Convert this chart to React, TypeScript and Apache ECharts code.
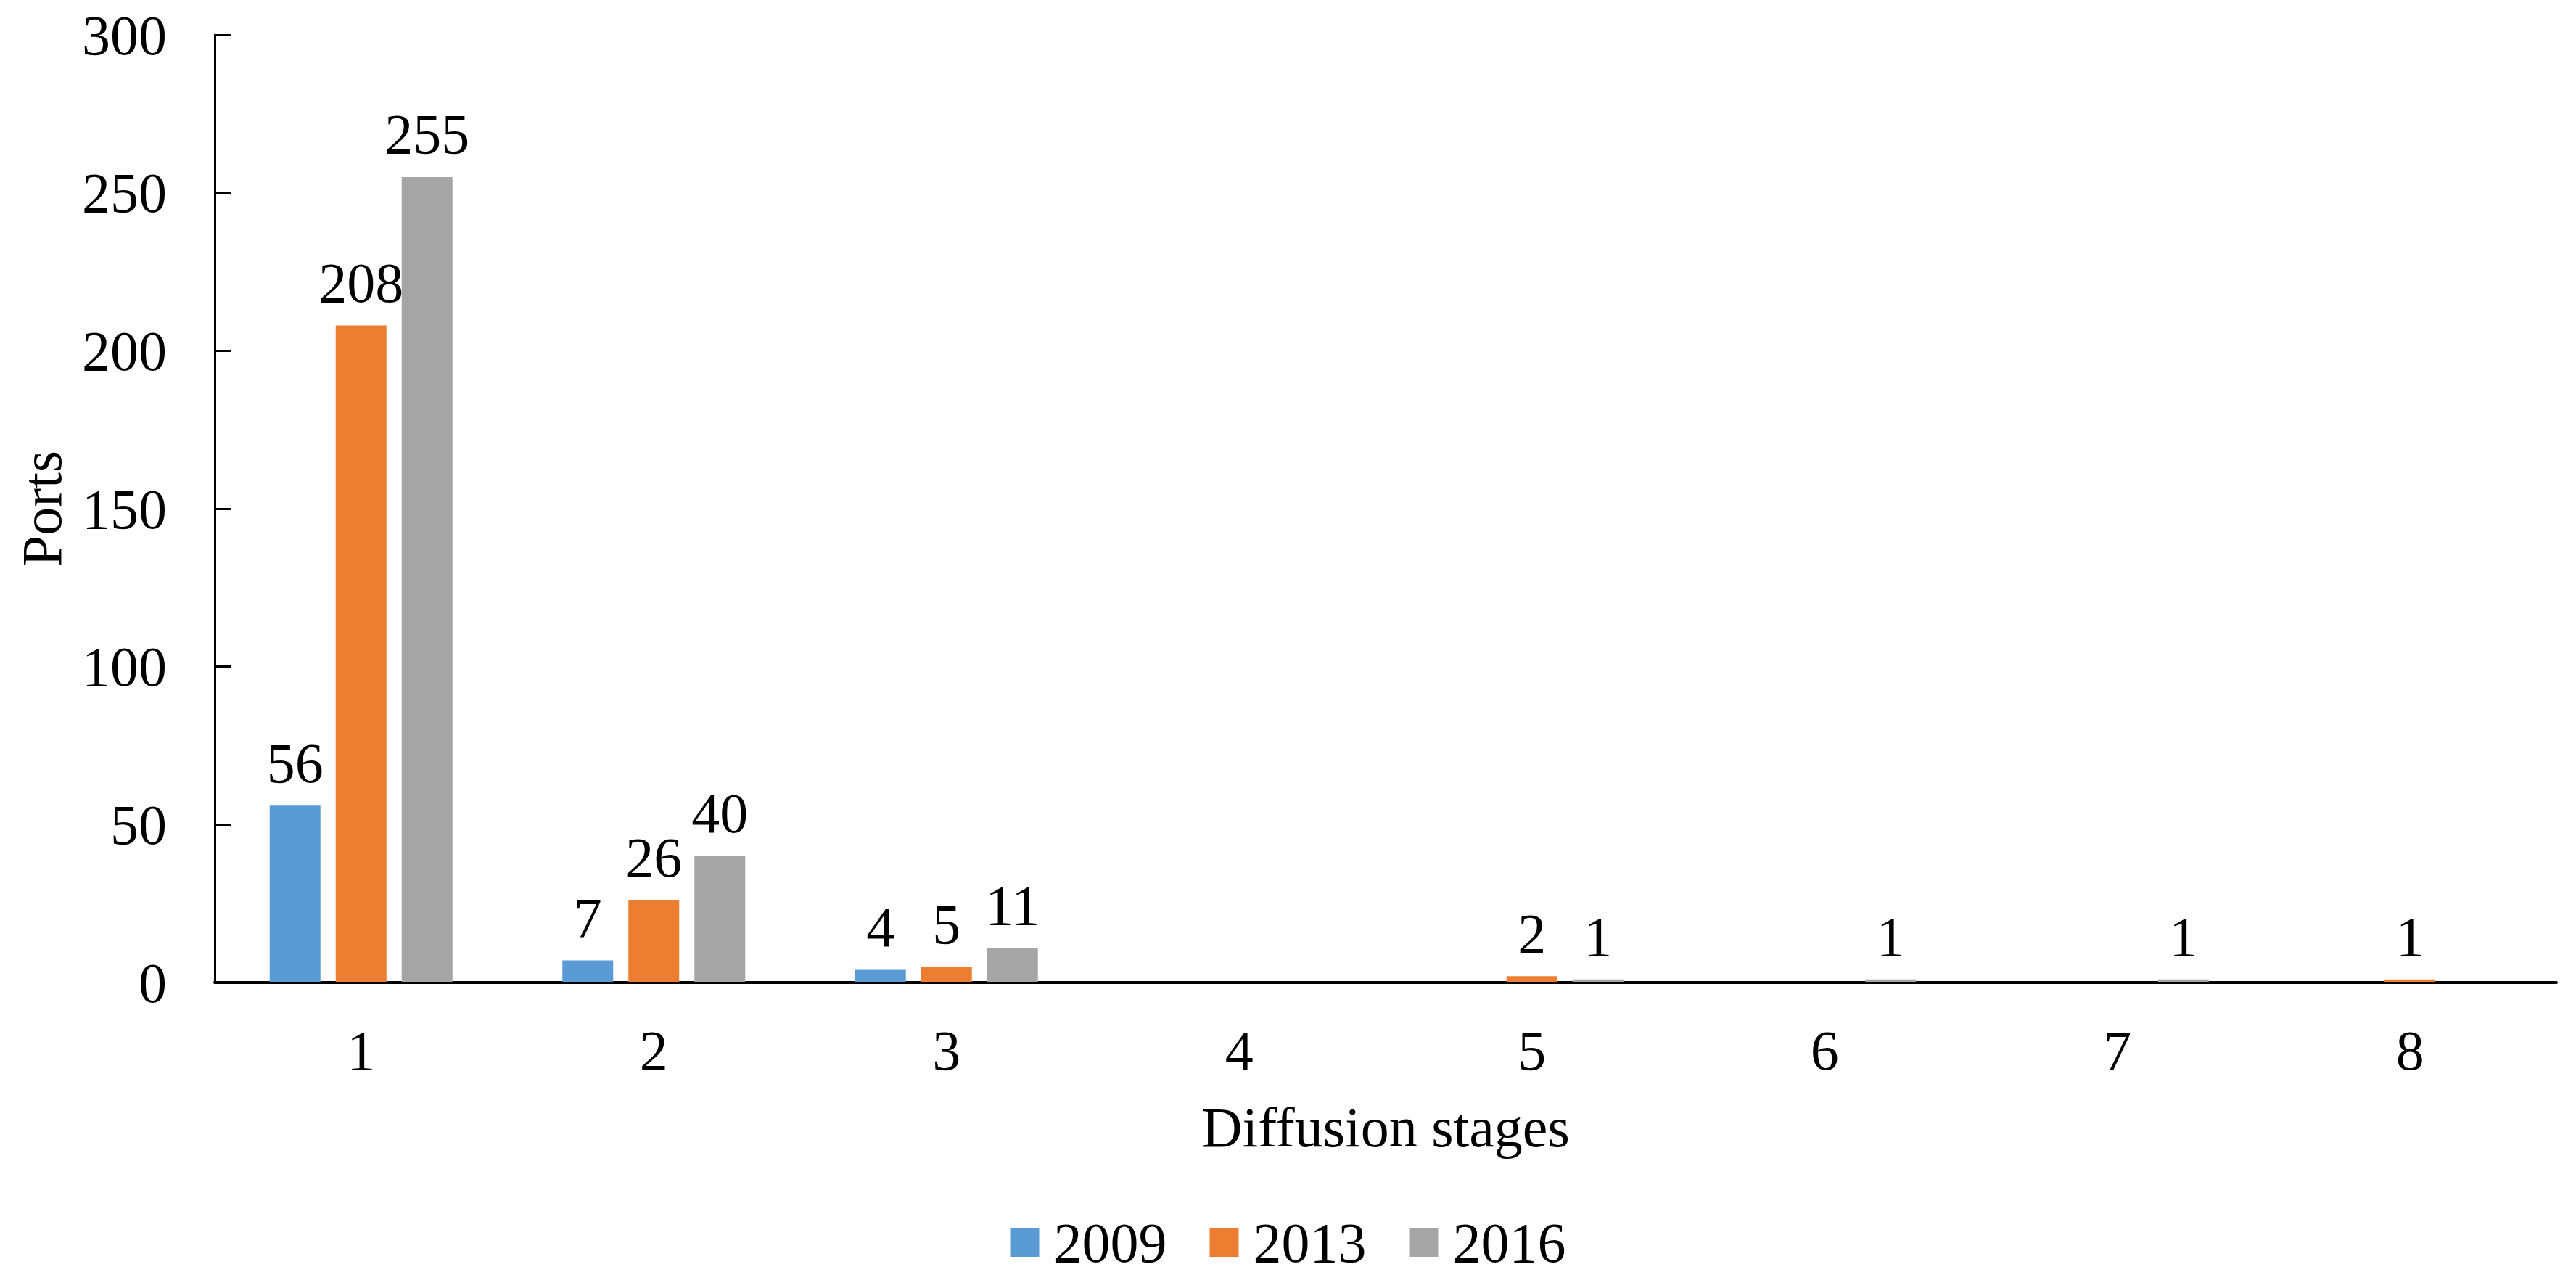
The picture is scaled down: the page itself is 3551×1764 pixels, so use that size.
import React, { useEffect, useRef } from "react";
import * as echarts from "echarts";

const stages = ["1", "2", "3", "4", "5", "6", "7", "8"];
const seriesNames = ["2009", "2013", "2016"];
const values2009 = [56, 7, 4, 0, 0, 0, 0, 0];
const values2013 = [208, 26, 5, 0, 2, 0, 0, 1];
const values2016 = [255, 40, 11, 0, 1, 1, 1, 0];
const colors = ["#5B9BD5", "#ED7D31", "#A5A5A5"];
const yTicks = { min: 0, max: 300, interval: 50 };

const FONT = "'Liberation Serif', 'Times New Roman', serif";
const FS = 78;

export default function App() {
  const ref = useRef<HTMLDivElement>(null);
  useEffect(() => {
    if (!ref.current) return;
    const chart = echarts.init(ref.current, null, { renderer: "svg" });
    const allValues = [values2009, values2013, values2016];
    chart.setOption({
      animation: false,
      backgroundColor: "#ffffff",
      textStyle: { fontFamily: FONT, color: "#000" },
      grid: { left: 296, right: 27, top: 48, bottom: 410, containLabel: false },
      legend: {
        data: seriesNames,
        left: "center",
        top: 1668,
        itemWidth: 40,
        itemHeight: 40,
        itemGap: 59,
        icon: "rect",
        textStyle: {
          fontFamily: FONT,
          fontSize: FS,
          color: "#000",
          lineHeight: FS,
          padding: [0, 0, 0, 15],
        },
      },
      xAxis: {
        type: "category",
        data: stages,
        name: "Diffusion stages",
        nameLocation: "middle",
        nameGap: 160,
        nameTextStyle: { fontFamily: FONT, fontSize: FS, color: "#000" },
        axisLine: { show: true, lineStyle: { color: "#000", width: 4 } },
        axisTick: { show: false },
        axisLabel: { fontFamily: FONT, fontSize: FS, color: "#000", margin: 54 },
        splitLine: { show: false },
      },
      yAxis: {
        type: "value",
        min: yTicks.min,
        max: yTicks.max,
        interval: yTicks.interval,
        name: "Ports",
        nameLocation: "middle",
        nameGap: 200,
        nameTextStyle: { fontFamily: FONT, fontSize: FS, color: "#000" },
        axisLine: { show: true, lineStyle: { color: "#000", width: 3 } },
        axisTick: { show: true, inside: true, length: 22, lineStyle: { color: "#000", width: 3 } },
        axisLabel: { fontFamily: FONT, fontSize: FS, color: "#000", margin: 66 },
        splitLine: { show: false },
      },
      series: seriesNames.map((name, i) => ({
        name,
        type: "bar",
        data: allValues[i],
        barWidth: 70,
        barGap: "30%",
        itemStyle: { color: colors[i] },
        label: {
          show: true,
          position: "top",
          distance: 20,
          fontFamily: FONT,
          fontSize: FS,
          color: "#000",
          formatter: (p: any) => (p.value === 0 ? "" : String(p.value)),
        },
      })),
    });
    return () => chart.dispose();
  }, []);
  return (
    <div
      ref={ref}
      style={{ position: "fixed", left: 0, top: 0, width: 3551, height: 1764 }}
    />
  );
}
